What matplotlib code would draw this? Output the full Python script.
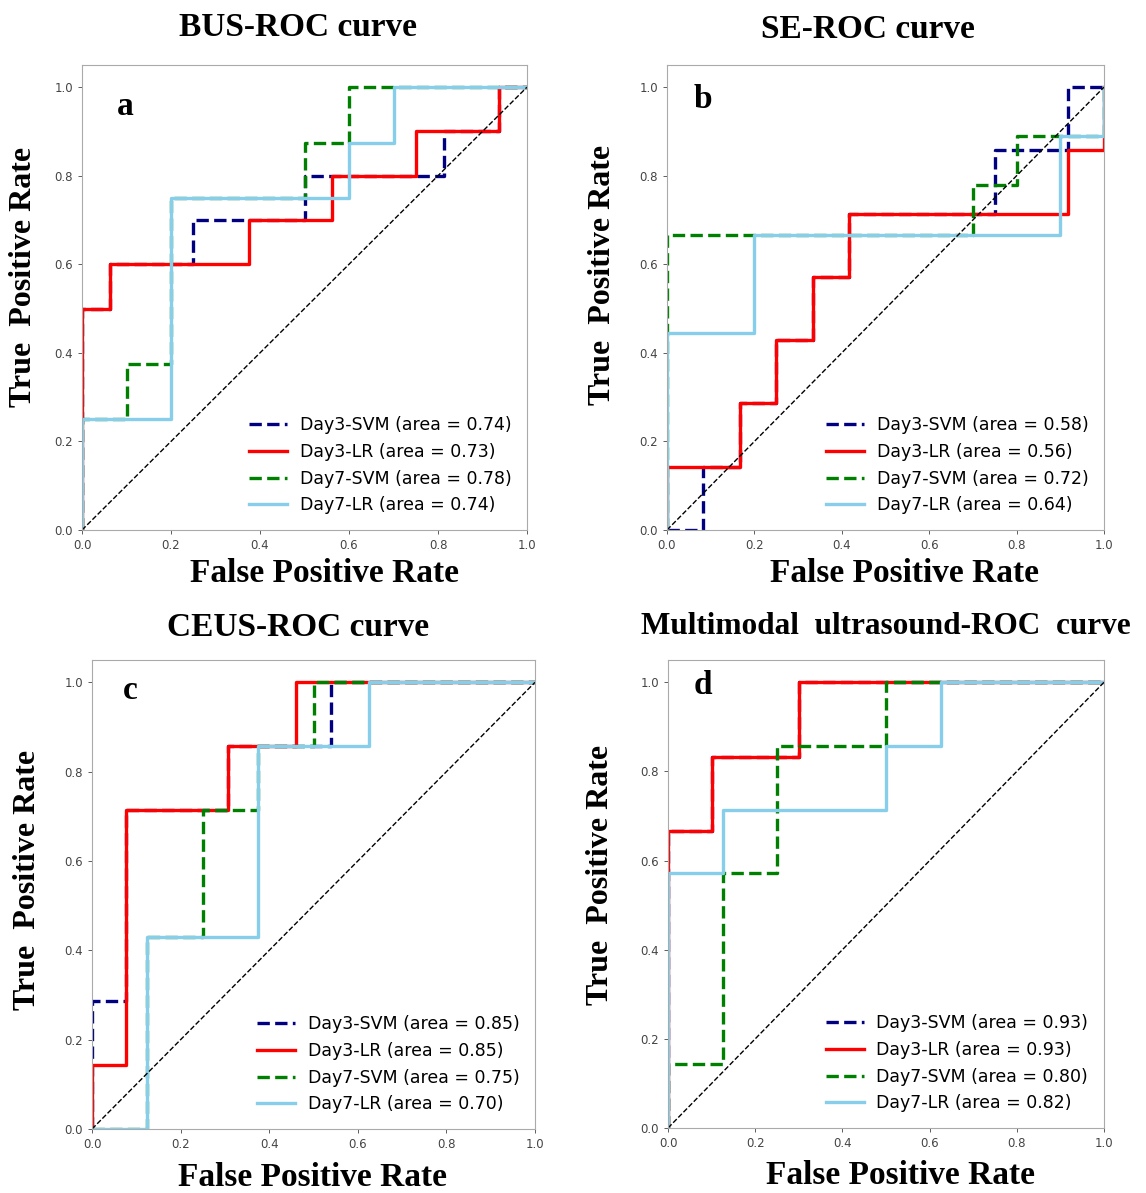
import matplotlib
matplotlib.use("Agg")
import matplotlib.pyplot as plt

W, H = 1146, 1193

# ---- data ----
titles = ["BUS-ROC curve", "SE-ROC curve", "CEUS-ROC curve",
          "Multimodal  ultrasound-ROC  curve"]
letters = ["a", "b", "c", "d"]
series_names = ["Day3-SVM", "Day3-LR", "Day7-SVM", "Day7-LR"]

# panel a (BUS)
a_svm3_fpr = [0, 0, 0.0625, 0.0625, 0.25, 0.25, 0.5, 0.5, 0.8125, 0.8125, 0.9375, 0.9375, 1]
a_svm3_tpr = [0, 0.5, 0.5, 0.6, 0.6, 0.7, 0.7, 0.8, 0.8, 0.9, 0.9, 1.0, 1.0]
a_lr3_fpr = [0, 0, 0.0625, 0.0625, 0.375, 0.375, 0.5625, 0.5625, 0.75, 0.75, 0.9375, 0.9375, 1]
a_lr3_tpr = [0, 0.5, 0.5, 0.6, 0.6, 0.7, 0.7, 0.8, 0.8, 0.9, 0.9, 1.0, 1.0]
a_svm7_fpr = [0, 0, 0.1, 0.1, 0.2, 0.2, 0.5, 0.5, 0.6, 0.6, 1]
a_svm7_tpr = [0, 0.25, 0.25, 0.375, 0.375, 0.75, 0.75, 0.875, 0.875, 1.0, 1.0]
a_lr7_fpr = [0, 0, 0.2, 0.2, 0.6, 0.6, 0.7, 0.7, 1]
a_lr7_tpr = [0, 0.25, 0.25, 0.75, 0.75, 0.875, 0.875, 1.0, 1.0]
a_auc = [0.74, 0.73, 0.78, 0.74]

# panel b (SE)
b_svm3_fpr = [0, 0.0833, 0.0833, 0.1667, 0.1667, 0.25, 0.25, 0.3333, 0.3333,
              0.4167, 0.4167, 0.75, 0.75, 0.9167, 0.9167, 1]
b_svm3_tpr = [0, 0, 0.143, 0.143, 0.286, 0.286, 0.429, 0.429, 0.571,
              0.571, 0.714, 0.714, 0.857, 0.857, 1.0, 1.0]
b_lr3_fpr = [0, 0, 0.1667, 0.1667, 0.25, 0.25, 0.3333, 0.3333, 0.4167, 0.4167,
             0.9167, 0.9167, 1, 1]
b_lr3_tpr = [0, 0.143, 0.143, 0.286, 0.286, 0.429, 0.429, 0.571, 0.571, 0.714,
             0.714, 0.857, 0.857, 1.0]
b_svm7_fpr = [0, 0, 0.7, 0.7, 0.8, 0.8, 1, 1]
b_svm7_tpr = [0, 0.667, 0.667, 0.778, 0.778, 0.889, 0.889, 1.0]
b_lr7_fpr = [0, 0, 0.2, 0.2, 0.9, 0.9, 1, 1]
b_lr7_tpr = [0, 0.444, 0.444, 0.667, 0.667, 0.889, 0.889, 1.0]
b_auc = [0.58, 0.56, 0.72, 0.64]

# panel c (CEUS)
c_svm3_fpr = [0, 0, 0.0769, 0.0769, 0.3077, 0.3077, 0.5385, 0.5385, 1]
c_svm3_tpr = [0, 0.286, 0.286, 0.714, 0.714, 0.857, 0.857, 1.0, 1.0]
c_lr3_fpr = [0, 0, 0.0769, 0.0769, 0.3077, 0.3077, 0.4615, 0.4615, 1]
c_lr3_tpr = [0, 0.143, 0.143, 0.714, 0.714, 0.857, 0.857, 1.0, 1.0]
c_svm7_fpr = [0, 0.125, 0.125, 0.25, 0.25, 0.375, 0.375, 0.5, 0.5, 1]
c_svm7_tpr = [0, 0, 0.429, 0.429, 0.714, 0.714, 0.857, 0.857, 1.0, 1.0]
c_lr7_fpr = [0, 0.125, 0.125, 0.375, 0.375, 0.625, 0.625, 1]
c_lr7_tpr = [0, 0, 0.429, 0.429, 0.857, 0.857, 1.0, 1.0]
c_auc = [0.85, 0.85, 0.75, 0.70]

# panel d (multimodal)
d_svm3_fpr = [0, 0, 0.1, 0.1, 0.3, 0.3, 1]
d_svm3_tpr = [0, 0.667, 0.667, 0.833, 0.833, 1.0, 1.0]
d_lr3_fpr = [0, 0, 0.1, 0.1, 0.3, 0.3, 1]
d_lr3_tpr = [0, 0.667, 0.667, 0.833, 0.833, 1.0, 1.0]
d_svm7_fpr = [0, 0, 0.125, 0.125, 0.25, 0.25, 0.5, 0.5, 1]
d_svm7_tpr = [0, 0.143, 0.143, 0.571, 0.571, 0.857, 0.857, 1.0, 1.0]
d_lr7_fpr = [0, 0, 0.125, 0.125, 0.5, 0.5, 0.625, 0.625, 1]
d_lr7_tpr = [0, 0.571, 0.571, 0.714, 0.714, 0.857, 0.857, 1.0, 1.0]
d_auc = [0.93, 0.93, 0.80, 0.82]

panels = [
    ([(a_svm3_fpr, a_svm3_tpr), (a_lr3_fpr, a_lr3_tpr), (a_svm7_fpr, a_svm7_tpr), (a_lr7_fpr, a_lr7_tpr)], a_auc),
    ([(b_svm3_fpr, b_svm3_tpr), (b_lr3_fpr, b_lr3_tpr), (b_svm7_fpr, b_svm7_tpr), (b_lr7_fpr, b_lr7_tpr)], b_auc),
    ([(c_svm3_fpr, c_svm3_tpr), (c_lr3_fpr, c_lr3_tpr), (c_svm7_fpr, c_svm7_tpr), (c_lr7_fpr, c_lr7_tpr)], c_auc),
    ([(d_svm3_fpr, d_svm3_tpr), (d_lr3_fpr, d_lr3_tpr), (d_svm7_fpr, d_svm7_tpr), (d_lr7_fpr, d_lr7_tpr)], d_auc),
]

colors = ["navy", "red", "green", "skyblue"]
styles = ["--", "-", "--", "-"]

# axes boxes in pixels: left, right, top, bottom
boxes = [(82, 527, 65, 530), (667, 1104, 65, 530),
         (92, 535, 660, 1129), (668, 1104, 660, 1128)]
title_pos = [(298, 28), (868, 30), (298, 627), (886, 627)]
title_size = [24, 24, 24, 22.5]
xlab_pos = [(324, 574), (904, 573), (312, 1178), (900, 1176)]
ylab_pos = [(24, 277), (602, 275), (28, 880), (600, 875)]
letter_pos = [(0.097, 0.91), (0.082, 0.925), (0.086, 0.936), (0.08, 0.945)]

serif = "Liberation Serif"

fig = plt.figure(figsize=(W / 100, H / 100), dpi=100)


def fx(x):
    return x / W


def fy(y):
    return 1 - y / H


for i, (curves, aucs) in enumerate(panels):
    l, r, t, b = boxes[i]
    ax = fig.add_axes([fx(l), fy(b), (r - l) / W, (b - t) / H])
    for (fpr, tpr), c, ls, name, auc in zip(curves, colors, styles, series_names, aucs):
        ax.plot(fpr, tpr, color=c, ls=ls, lw=2.4, label=f"{name} (area = {auc:.2f})")
    ax.plot([0, 1], [0, 1], "k--", lw=1)
    ax.set_xlim(0, 1)
    ax.set_ylim(0, 1.05)
    ax.tick_params(labelsize=8.5, colors="#444444", length=3, width=0.6)
    for sp in ax.spines.values():
        sp.set_color("#aaaaaa")
    ax.legend(loc="lower right", frameon=False, fontsize=12.5, handlelength=2.2,
              labelspacing=0.5, borderaxespad=0.5, handletextpad=0.7)
    ax.text(letter_pos[i][0], letter_pos[i][1], letters[i], transform=ax.transAxes,
            ha="center", va="center", fontsize=24, fontweight="bold", family=serif)

    fig.text(fx(title_pos[i][0]), fy(title_pos[i][1]), titles[i], ha="center", va="center",
             fontsize=title_size[i], fontweight="bold", family=serif)
    fig.text(fx(xlab_pos[i][0]), fy(xlab_pos[i][1]), "False Positive Rate", ha="center",
             va="center", fontsize=24, fontweight="bold", family=serif)
    fig.text(fx(ylab_pos[i][0]), fy(ylab_pos[i][1]), "True  Positive Rate", ha="center",
             va="center", fontsize=23, fontweight="bold", family=serif, rotation=90)

fig.savefig("out.png", dpi=100)
